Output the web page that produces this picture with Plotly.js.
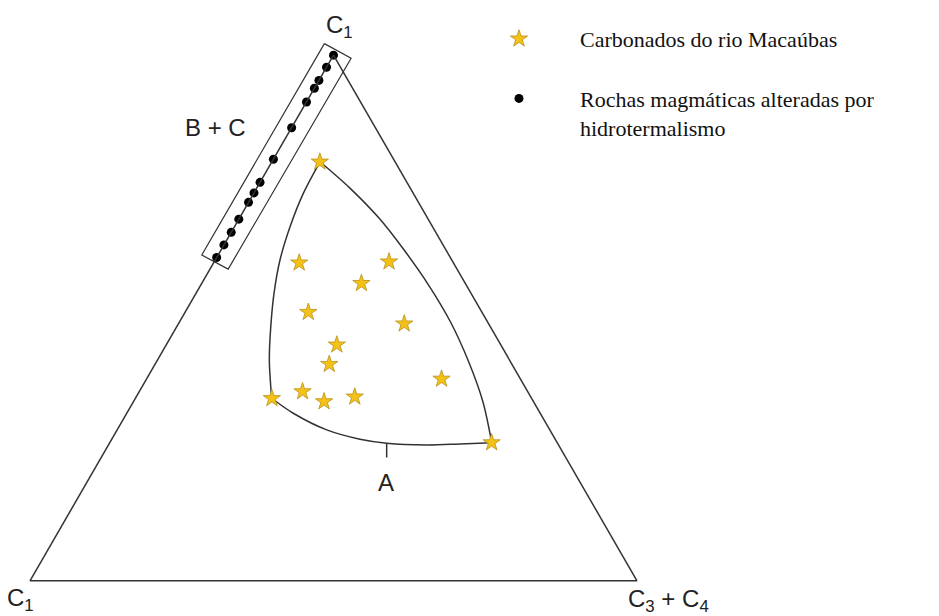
<!DOCTYPE html>
<html>
<head>
<meta charset="utf-8">
<script src="https://cdn.plot.ly/plotly-3.0.1.min.js"></script>
<style>html,body{margin:0;padding:0;background:#fff}</style>
</head>
<body>
<div id="chart" style="width:939px;height:616px"></div>
<script>
// Ternary compositions (fractions, sum = 1): a = C1 (apex), b = C1 (left), c = C3 + C4 (right)

// Carbonados do rio Macaúbas
const starA = [0.797, 0.605, 0.607, 0.566, 0.511, 0.489, 0.449, 0.412, 0.384, 0.347, 0.360, 0.341, 0.350, 0.263];
const starB = [0.124, 0.254, 0.105, 0.171, 0.286, 0.139, 0.270, 0.301, 0.130, 0.428, 0.371, 0.345, 0.290, 0.108];
const starC = [0.079, 0.141, 0.288, 0.263, 0.203, 0.372, 0.281, 0.287, 0.486, 0.225, 0.269, 0.314, 0.360, 0.629];

// Rochas magmáticas alteradas por hidrotermalismo (all on the C1 – C1 edge)
const dotA = [1.000, 0.977, 0.952, 0.937, 0.911, 0.862, 0.802, 0.758, 0.738, 0.720, 0.688, 0.663, 0.639, 0.615];
const dotB = [0.000, 0.023, 0.048, 0.063, 0.089, 0.138, 0.198, 0.242, 0.262, 0.280, 0.312, 0.337, 0.361, 0.385];
const dotC = [0, 0, 0, 0, 0, 0, 0, 0, 0, 0, 0, 0, 0, 0];

// Field A outline: right edge, bottom edge, left edge (gaps between the three curves)
const fieldA = [0.7972, 0.7471, 0.6901, 0.6293, 0.5627, 0.4924, 0.4163, 0.3403, 0.2629, null,
                0.2629, 0.2605, 0.2586, 0.2618, 0.2694, 0.2871, 0.3188, 0.3473, null,
                0.3473, 0.4202, 0.4835, 0.5470, 0.6103, 0.6736, 0.7371, 0.7972];
const fieldB = [0.1236, 0.0994, 0.0800, 0.0690, 0.0620, 0.0610, 0.0690, 0.0836, 0.1079, null,
                0.1079, 0.1614, 0.2172, 0.2815, 0.3217, 0.3676, 0.4069, 0.4282, null,
                0.4282, 0.3956, 0.3616, 0.3245, 0.2830, 0.2348, 0.1812, 0.1236];
const fieldC = [0.0792, 0.1535, 0.2299, 0.3017, 0.3753, 0.4466, 0.5147, 0.5761, 0.6292, null,
                0.6292, 0.5781, 0.5242, 0.4567, 0.4089, 0.3453, 0.2743, 0.2245, null,
                0.2245, 0.1842, 0.1549, 0.1285, 0.1067, 0.0916, 0.0817, 0.0792];

// Label tick for field A
const tickA = [0.2618, 0.2348];
const tickB = [0.2815, 0.2950];
const tickC = [0.4567, 0.4702];

// Field B + C: box enclosing the edge samples (extends past the triangle edge)
const boxA = [1.022, 0.994, 0.593, 0.620, 1.022];
const boxB = [0.004, -0.026, 0.377, 0.407, 0.004];
const boxC = [-0.026, 0.032, 0.030, -0.027, -0.026];

// Page and triangle geometry (px)
const W = 939, H = 616;
const TRI_L = 30, TRI_R = 637, TRI_TOP = 55, TRI_BOT = 581;
const side = TRI_R - TRI_L;
const triH = Math.min(TRI_BOT - TRI_TOP, side * Math.sqrt(3) / 2);
const triBase = TRI_BOT - ((TRI_BOT - TRI_TOP) - triH) / 2;

// Full-page cartesian overlay aligned with the ternary frame:
// x = c + a/2 (fraction of the base), y = a (fraction of the height)
const xRange = [(0 - TRI_L) / side, (W - TRI_L) / side];
const yRange = [(triBase - H) / triH, triBase / triH];
const boxX = boxA.map((a, i) => boxC[i] + a / 2);
const boxY = boxA.slice();

const lineCol = '#333333';

const traces = [
  {
    type: 'scatter', mode: 'lines', x: boxX, y: boxY, xaxis: 'x', yaxis: 'y',
    line: {color: lineCol, width: 1.2}, showlegend: false, hoverinfo: 'skip'
  },
  {
    type: 'scatterternary', mode: 'lines', a: fieldA, b: fieldB, c: fieldC,
    line: {color: lineCol, width: 1.5, shape: 'spline', smoothing: 0.9},
    connectgaps: false, showlegend: false, hoverinfo: 'skip'
  },
  {
    type: 'scatterternary', mode: 'lines', a: tickA, b: tickB, c: tickC,
    line: {color: lineCol, width: 1.5}, showlegend: false, hoverinfo: 'skip'
  },
  {
    type: 'scatterternary', mode: 'markers', a: dotA, b: dotB, c: dotC,
    name: 'Rochas magmáticas alteradas por<br>hidrotermalismo',
    legendgroup: 'g2', legendrank: 2, cliponaxis: false,
    marker: {symbol: 'circle', size: 9, color: '#000000'}
  },
  {
    type: 'scatterternary', mode: 'markers', a: starA, b: starB, c: starC,
    name: 'Carbonados do rio Macaúbas',
    legendgroup: 'g1', legendrank: 1, cliponaxis: false,
    marker: {symbol: 'star', size: 13, color: '#f4c116', line: {color: '#b8901c', width: 0.8}}
  }
];

const axisStyle = {
  showgrid: false, showticklabels: false, ticks: '',
  showline: true, linecolor: lineCol, linewidth: 1.5,
  title: {text: ''}
};

const hiddenAxis = {visible: false, fixedrange: true, showgrid: false, zeroline: false};

const labelFont = {family: 'Liberation Sans, Arial, sans-serif', size: 24, color: '#222222'};

const layout = {
  width: W, height: H,
  margin: {l: 0, r: 0, t: 0, b: 0},
  paper_bgcolor: '#ffffff',
  plot_bgcolor: 'rgba(0,0,0,0)',
  showlegend: true,
  xaxis: Object.assign({domain: [0, 1], range: xRange}, hiddenAxis),
  yaxis: Object.assign({domain: [0, 1], range: yRange}, hiddenAxis),
  ternary: {
    sum: 1,
    domain: {x: [TRI_L / W, TRI_R / W], y: [1 - TRI_BOT / H, 1 - TRI_TOP / H]},
    bgcolor: 'rgba(0,0,0,0)',
    aaxis: axisStyle, baxis: axisStyle, caxis: axisStyle
  },
  legend: {
    x: 458 / W, y: 1 - 18 / H, xanchor: 'left', yanchor: 'top',
    font: {family: 'Liberation Serif, Times New Roman, serif', size: 22, color: '#111111'},
    itemwidth: 112, valign: 'top', traceorder: 'grouped', tracegroupgap: 28,
    bgcolor: 'rgba(0,0,0,0)', itemclick: false, itemdoubleclick: false
  },
  annotations: [
    {text: 'C<sub>1</sub>', x: 339 / W, y: 1 - 26 / H, xref: 'paper', yref: 'paper',
     xanchor: 'center', yanchor: 'middle', showarrow: false, font: labelFont},
    {text: 'C<sub>1</sub>', x: 20 / W, y: 1 - 599 / H, xref: 'paper', yref: 'paper',
     xanchor: 'center', yanchor: 'middle', showarrow: false, font: labelFont},
    {text: 'C<sub>3</sub> + C<sub>4</sub>', x: 626 / W, y: 1 - 600 / H, xref: 'paper', yref: 'paper',
     xanchor: 'left', yanchor: 'middle', showarrow: false, font: labelFont},
    {text: 'B + C', x: 215 / W, y: 1 - 127 / H, xref: 'paper', yref: 'paper',
     xanchor: 'center', yanchor: 'middle', showarrow: false, font: labelFont},
    {text: 'A', x: 386 / W, y: 1 - 482 / H, xref: 'paper', yref: 'paper',
     xanchor: 'center', yanchor: 'middle', showarrow: false, font: labelFont}
  ]
};

Plotly.newPlot('chart', traces, layout, {displayModeBar: false, staticPlot: true});
</script>
</body>
</html>
